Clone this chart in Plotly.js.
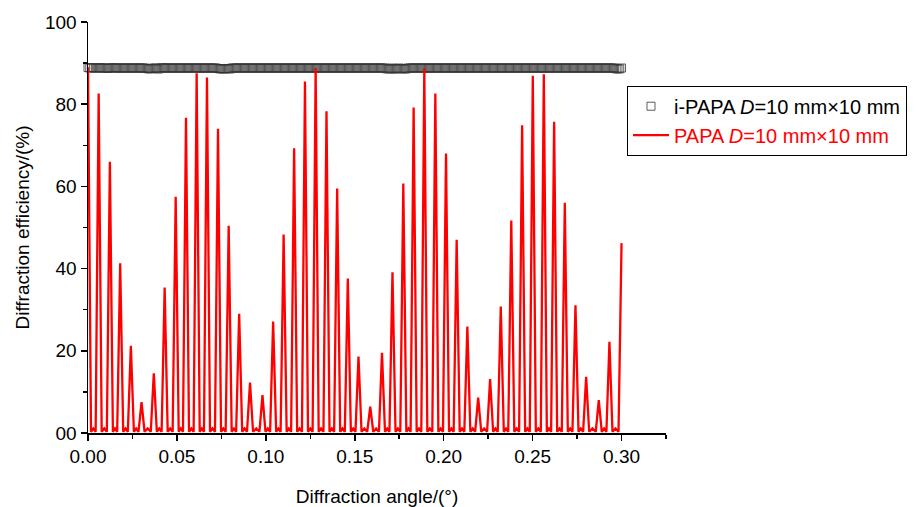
<!DOCTYPE html>
<html>
<head>
<meta charset="utf-8">
<script src="https://cdn.plot.ly/plotly-3.0.1.min.js"></script>
<style>html,body{margin:0;padding:0;background:#fff;}#chart{width:924px;height:507px;}</style>
</head>
<body>
<div id="chart"></div>
<script>
// ---- Data ----
// PAPA (red curve): peak positions (deg) and peak efficiencies (%)
const papaPeakX = [0.0000, 0.0060, 0.0123, 0.0181, 0.0241, 0.0301, 0.0370, 0.0431, 0.0493, 0.0551,
                   0.0611, 0.0669, 0.0731, 0.0791, 0.0850, 0.0911, 0.0981, 0.1041, 0.1100, 0.1159,
                   0.1220, 0.1280, 0.1341, 0.1401, 0.1461, 0.1521, 0.1587, 0.1653, 0.1712, 0.1773,
                   0.1831, 0.1891, 0.1953, 0.2013, 0.2073, 0.2133, 0.2194, 0.2261, 0.2321, 0.2380,
                   0.2441, 0.2501, 0.2563, 0.2621, 0.2681, 0.2741, 0.2801, 0.2872, 0.2932, 0.3000];
const papaPeakY = [89.0, 82.6, 66.0, 41.3, 21.2, 7.5, 14.5, 35.4, 57.5, 76.7,
                   87.5, 86.5, 74.0, 50.4, 29.0, 12.3, 9.2, 27.1, 48.3, 69.3,
                   85.5, 88.8, 78.3, 59.5, 37.6, 18.6, 6.4, 19.5, 39.1, 60.7,
                   79.2, 88.7, 82.6, 68.0, 47.0, 25.9, 8.6, 13.1, 30.8, 51.7,
                   74.9, 86.9, 87.3, 75.7, 56.0, 31.1, 13.7, 8.0, 22.2, 46.2];
const papaBaseY = 0.3;     // level at the foot of each peak
const papaSideLobeY = 1.1; // small side lobe between peaks
const papaHalfBase = 0.0017;

// i-PAPA (hollow squares): efficiency (%) sampled every 0.001 deg from 0 to 0.30
const iPapaStart = 0.0, iPapaStep = 0.001;
const iPapaY = [
  88.9, 88.8, 88.8, 88.9, 88.8, 88.8, 88.8, 88.9, 88.8, 88.8, 88.8, 88.7, 88.8, 88.8, 88.9, 88.8, 88.8, 88.8, 88.8, 88.8,
  88.8, 88.8, 88.8, 88.8, 88.8, 88.8, 88.8, 88.8, 88.8, 88.8, 88.8, 88.8, 88.8, 88.7, 88.6, 88.6, 88.7, 88.8, 88.8, 88.6,
  88.6, 88.8, 88.9, 88.8, 88.8, 88.8, 88.8, 88.8, 88.8, 88.8, 88.8, 88.8, 88.8, 88.8, 88.8, 88.8, 88.8, 88.8, 88.8, 88.8,
  88.8, 88.8, 88.8, 88.8, 88.8, 88.8, 88.8, 88.8, 88.8, 88.8, 88.8, 88.8, 88.8, 88.7, 88.6, 88.6, 88.6, 88.6, 88.7, 88.6,
  88.6, 88.8, 88.8, 88.8, 88.8, 88.8, 88.8, 88.8, 88.8, 88.8, 88.8, 88.8, 88.8, 88.8, 88.8, 88.8, 88.8, 88.8, 88.8, 88.8,
  88.8, 88.8, 88.8, 88.8, 88.8, 88.8, 88.8, 88.8, 88.8, 88.8, 88.8, 88.8, 88.8, 88.8, 88.8, 88.8, 88.8, 88.8, 88.8, 88.8,
  88.8, 88.8, 88.8, 88.8, 88.8, 88.8, 88.8, 88.8, 88.8, 88.8, 88.8, 88.8, 88.8, 88.8, 88.8, 88.8, 88.8, 88.8, 88.8, 88.8,
  88.8, 88.8, 88.8, 88.8, 88.8, 88.8, 88.8, 88.8, 88.8, 88.8, 88.8, 88.8, 88.8, 88.8, 88.8, 88.8, 88.8, 88.8, 88.8, 88.8,
  88.8, 88.8, 88.8, 88.8, 88.8, 88.8, 88.8, 88.8, 88.6, 88.6, 88.6, 88.8, 88.6, 88.6, 88.6, 88.8, 88.7, 88.6, 88.6, 88.6,
  88.8, 88.8, 88.8, 88.8, 88.8, 88.8, 88.8, 88.8, 88.8, 88.8, 88.8, 88.8, 88.8, 88.8, 88.8, 88.8, 88.8, 88.8, 88.8, 88.8,
  88.8, 88.8, 88.8, 88.8, 88.8, 88.8, 88.8, 88.8, 88.8, 88.8, 88.8, 88.8, 88.8, 88.8, 88.8, 88.8, 88.8, 88.8, 88.8, 88.8,
  88.8, 88.8, 88.8, 88.8, 88.8, 88.8, 88.8, 88.8, 88.8, 88.8, 88.8, 88.8, 88.8, 88.8, 88.8, 88.8, 88.8, 88.8, 88.8, 88.8,
  88.8, 88.8, 88.8, 88.8, 88.8, 88.8, 88.8, 88.8, 88.8, 88.8, 88.8, 88.8, 88.8, 88.8, 88.8, 88.8, 88.8, 88.8, 88.8, 88.8,
  88.8, 88.8, 88.8, 88.8, 88.8, 88.8, 88.8, 88.8, 88.8, 88.8, 88.8, 88.8, 88.8, 88.8, 88.8, 88.8, 88.8, 88.8, 88.8, 88.8,
  88.8, 88.8, 88.8, 88.8, 88.8, 88.8, 88.8, 88.8, 88.8, 88.8, 88.8, 88.8, 88.8, 88.8, 88.8, 88.8, 88.8, 88.6, 88.6, 88.6,
  88.8
];

const xTickVals = [0, 0.05, 0.10, 0.15, 0.20, 0.25, 0.30];
const xTickText = ['0.00', '0.05', '0.10', '0.15', '0.20', '0.25', '0.30'];
const xMinorVals = [0.025, 0.075, 0.125, 0.175, 0.225, 0.275, 0.325];
const yTickVals = [0, 20, 40, 60, 80, 100];
const yTickText = ['00', '20', '40', '60', '80', '100'];
const yMinorVals = [10, 30, 50, 70, 90];

// ---- Build polylines from the read values ----
const papaX = [], papaY = [];
const last = papaPeakX.length - 1;
papaPeakX.forEach((xp, i) => {
  if (i > 0) { papaX.push(xp - papaHalfBase); papaY.push(papaBaseY); }
  papaX.push(xp); papaY.push(papaPeakY[i]);
  if (i < last) {
    papaX.push(xp + papaHalfBase); papaY.push(papaBaseY);
    papaX.push((xp + papaPeakX[i + 1]) / 2); papaY.push(papaSideLobeY);
  }
});
const iPapaX = iPapaY.map((_, i) => +(iPapaStart + i * iPapaStep).toFixed(4));

const FONT = 'Liberation Sans, Arial, Helvetica, sans-serif';

const traces = [
  {
    x: iPapaX, y: iPapaY, type: 'scatter', mode: 'markers',
    name: 'i-PAPA <i>D</i>=10 mm×10 mm', legendgroup: 'a',
    marker: {symbol: 'square-open', size: 8, color: '#333333', line: {width: 0.8, color: '#333333'}},
    cliponaxis: false
  },
  {
    x: papaX, y: papaY, type: 'scatter', mode: 'lines',
    name: '<span style="color:#ff0000">PAPA <i>D</i>=10 mm×10 mm</span>', legendgroup: 'b',
    line: {color: '#ff0000', width: 2.3}
  }
];

const layout = {
  width: 924, height: 507,
  margin: {l: 88, r: 258, t: 22, b: 74, pad: 0},
  paper_bgcolor: '#ffffff', plot_bgcolor: '#ffffff',
  font: {family: FONT, size: 19, color: '#000'},
  showlegend: true,
  legend: {
    x: 0.9325, y: 0.845, xanchor: 'left', yanchor: 'top',
    bordercolor: '#000', borderwidth: 1, bgcolor: 'rgba(255,255,255,0)',
    font: {family: FONT, size: 20, color: '#000'},
    tracegroupgap: 0, itemwidth: 36
  },
  xaxis: {
    range: [0, 0.325], showgrid: false, zeroline: false,
    showline: true, linecolor: '#000', linewidth: 1.5,
    ticks: 'outside', ticklen: 6, tickwidth: 1.5, tickcolor: '#000',
    tickvals: xTickVals, ticktext: xTickText,
    tickfont: {family: FONT, size: 19, color: '#000'},
    minor: {tickvals: xMinorVals, ticks: 'outside', ticklen: 4, tickwidth: 1.5, tickcolor: '#000', showgrid: false},
    title: {text: 'Diffraction angle/(°)', font: {family: FONT, size: 19, color: '#000'}, standoff: 25}
  },
  yaxis: {
    range: [0, 100], showgrid: false, zeroline: false,
    showline: true, linecolor: '#000', linewidth: 1.5,
    ticks: 'outside', ticklen: 6, tickwidth: 1.5, tickcolor: '#000',
    tickvals: yTickVals, ticktext: yTickText,
    tickfont: {family: FONT, size: 19, color: '#000'},
    minor: {tickvals: yMinorVals, ticks: 'outside', ticklen: 4, tickwidth: 1.5, tickcolor: '#000', showgrid: false},
    title: {text: 'Diffraction efficiency/(%)', font: {family: FONT, size: 19, color: '#000'}, standoff: 10}
  }
};

Plotly.newPlot('chart', traces, layout, {displayModeBar: false, staticPlot: true});
</script>
</body>
</html>
